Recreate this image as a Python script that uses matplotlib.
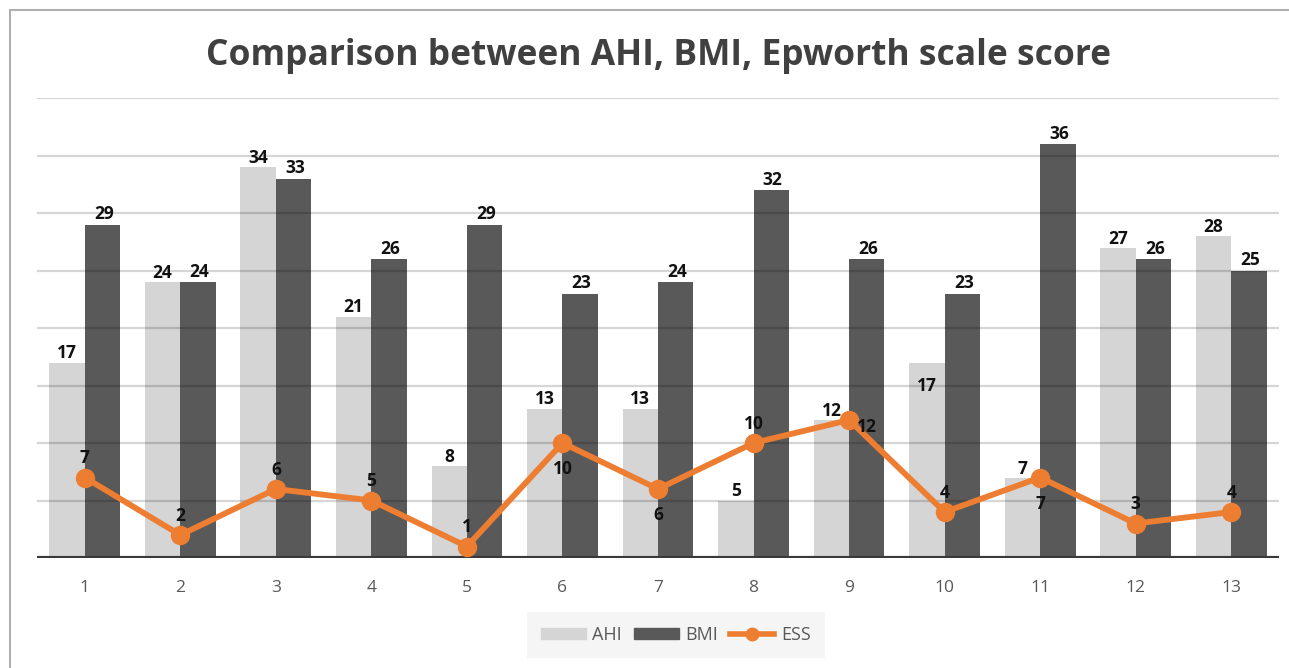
import numpy as np
import matplotlib
matplotlib.use("Agg")
import matplotlib.pyplot as plt
from matplotlib.patches import Rectangle
from matplotlib.lines import Line2D

plt.rcParams['font.family'] = ['Open Sans', 'DejaVu Sans']

categories = ['1', '2', '3', '4', '5', '6', '7', '8', '9', '10', '11', '12', '13']
ahi = [17, 24, 34, 21, 8, 13, 13, 5, 12, 17, 7, 27, 28]
bmi = [29, 24, 33, 26, 29, 23, 24, 32, 26, 23, 36, 26, 25]
ess = [7, 2, 6, 5, 1, 10, 6, 10, 12, 4, 7, 3, 4]

# where each ESS value label sits relative to its marker
ess_label_pos = ['above', 'above', 'above', 'above', 'above', 'below', 'below',
                 'above', 'right', 'above', 'below', 'above', 'above']

C_AHI = '#d6d5d5'
C_BMI = '#595959'
C_ESS = '#ed7d31'

fig = plt.figure(figsize=(12.89, 6.68), dpi=100)
ax = fig.add_axes([37 / 1289, 110 / 668, 1242 / 1289, 460 / 668])

x = np.arange(len(categories))
w = 0.37
ax.bar(x - w / 2, ahi, width=w, color=C_AHI, zorder=2)
ax.bar(x + w / 2, bmi, width=w, color=C_BMI, zorder=2)

ax.set_ylim(0, 40)
ax.set_xlim(-0.5, len(categories) - 0.5)
for yv in range(5, 41, 5):
    ax.axhline(yv, color='black', alpha=0.16, lw=1.6, zorder=3)
ax.axhline(0, color='#3a3a3a', lw=3, zorder=4)

ax.plot(x, ess, color=C_ESS, lw=4.2, marker='o', ms=13, zorder=5,
        solid_capstyle='round')

lab_kw = dict(fontsize=12.5, fontweight='bold', color='#111111', zorder=6)
for i in range(len(categories)):
    if i == 9:
        ax.annotate(str(ahi[i]), (x[i] - w / 2, ahi[i]), xytext=(0, -17),
                    textcoords='offset points', ha='center', va='center', **lab_kw)
    else:
        ax.annotate(str(ahi[i]), (x[i] - w / 2, ahi[i]), xytext=(0, 0),
                    textcoords='offset points', ha='center', va='bottom', **lab_kw)
    ax.annotate(str(bmi[i]), (x[i] + w / 2, bmi[i]), xytext=(1, 1),
                textcoords='offset points', ha='center', va='bottom', **lab_kw)
    pos = ess_label_pos[i]
    if pos == 'above':
        off, ha = (0, 14), 'center'
    elif pos == 'below':
        off, ha = (0, -19), 'center'
    else:
        off, ha = (6, -5), 'left'
    ax.annotate(str(ess[i]), (x[i], ess[i]), xytext=off,
                textcoords='offset points', ha=ha, va='center', **lab_kw)

ax.set_xticks(x)
ax.set_xticklabels(categories, fontsize=12.5, color='#595959')
ax.tick_params(axis='x', length=0, pad=16)
ax.set_yticks([])
for s in ax.spines.values():
    s.set_visible(False)

fig.text(658 / 1289, 1 - 56 / 668, 'Comparison between AHI, BMI, Epworth scale score',
         ha='center', va='center', fontsize=25.5, fontweight='bold', color='#404040')

handles = [Rectangle((0, 0), 1, 1, color=C_AHI),
           Rectangle((0, 0), 1, 1, color=C_BMI),
           Line2D([], [], color=C_ESS, lw=4, marker='o', ms=9)]
leg = fig.legend(handles, ['AHI', 'BMI', 'ESS'], loc='center',
                 bbox_to_anchor=(676 / 1289, 1 - 635 / 668), ncol=3,
                 frameon=True, fontsize=13, handlelength=2.45, handleheight=0.55,
                 columnspacing=0.7, handletextpad=0.35, borderpad=0.8)
leg.get_frame().set_facecolor('#f3f3f3')
leg.get_frame().set_edgecolor('none')
leg.get_frame().set_boxstyle('square', pad=0)
for t in leg.get_texts():
    t.set_color('#595959')

# outer chart border
fig.patches.append(Rectangle((10 / 1289, -0.1), 1.1, 1 - 10 / 668 + 0.1,
                             transform=fig.transFigure, fill=False,
                             edgecolor='#b0b0b0', lw=1.5))

fig.savefig('out.png', dpi=100)
